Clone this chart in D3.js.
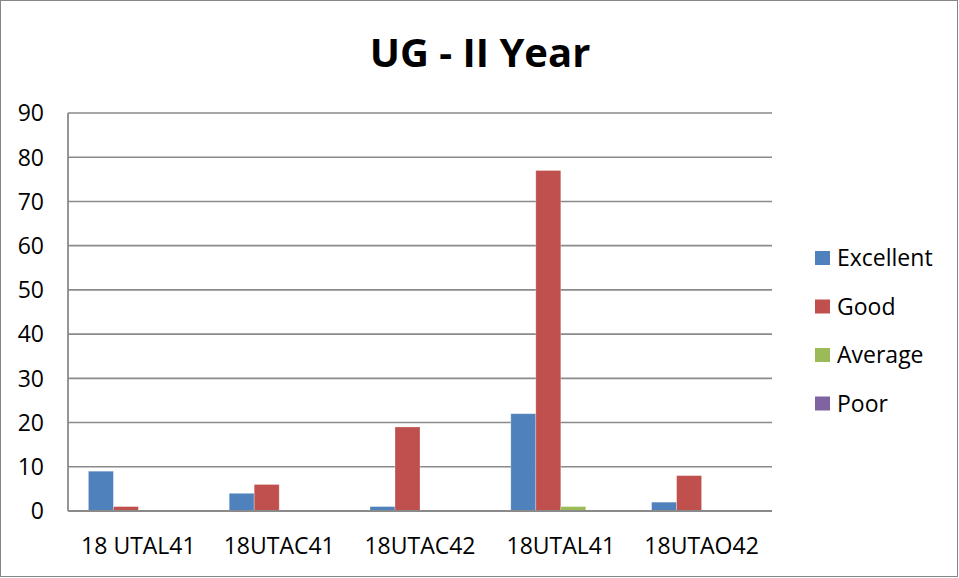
<!DOCTYPE html>
<html>
<head>
<meta charset="utf-8">
<script src="https://cdn.jsdelivr.net/npm/d3@7"></script>
<style>
  body { margin: 0; background: #fff; }
  svg { display: block; font-family: "Open Sans", sans-serif; }
</style>
</head>
<body>
<svg width="959" height="578"></svg>
<script>
'use strict';
const categories = ['18 UTAL41', '18UTAC41', '18UTAC42', '18UTAL41', '18UTAO42'];
const seriesNames = ['Excellent', 'Good', 'Average', 'Poor'];
const excellent = [9, 4, 1, 22, 2];
const good = [1, 6, 19, 77, 8];
const average = [0, 0, 0, 1, 0];
const poor = [0, 0, 0, 0, 0];
const yTicks = [0, 10, 20, 30, 40, 50, 60, 70, 80, 90];
const COLORS = ['#4f81bd', '#c0504d', '#9bbb59', '#8064a2'];

const values = [excellent, good, average, poor];
const svg = d3.select('svg');
const plot = { left: 68, right: 772, top: 113, bottom: 511 };

// outer frame
svg.append('rect')
  .attr('x', 0.5).attr('y', 0.5)
  .attr('width', 957).attr('height', 576)
  .attr('fill', '#fff')
  .attr('stroke', '#868686');

svg.append('text')
  .attr('x', 480).attr('y', 67)
  .attr('text-anchor', 'middle')
  .attr('font-size', 40).attr('font-weight', 'bold')
  .text('UG - II Year');

var y = d3.scaleLinear().domain([0, 90]).range([plot.bottom, plot.top]);
var x0 = d3.scaleBand().domain(d3.range(categories.length))
  .range([plot.left, plot.right]).padding(0);
var x1 = d3.scaleBand().domain(d3.range(seriesNames.length))
  .range([0, x0.bandwidth()]).paddingInner(0).paddingOuter(0.816);

// gridlines
svg.append('g').selectAll('line').data(yTicks.filter(d => d > 0)).enter()
  .append('line')
    .attr('x1', plot.left).attr('x2', plot.right)
    .attr('y1', d => y(d)).attr('y2', d => y(d))
    .attr('stroke', '#8a8a8a').attr('stroke-width', 1.6);

// y labels
svg.append('g').selectAll('text').data(yTicks).enter()
  .append('text')
    .attr('x', 44).attr('y', d => y(d))
    .attr('dy', '0.36em')
    .attr('text-anchor', 'end')
    .attr('font-size', 23)
    .text(d => d);

// bars
var groups = svg.append('g').selectAll('g').data(categories).enter()
  .append('g')
    .attr('transform', (d, i) => `translate(${x0(i)}, 0)`);

groups.selectAll('rect')
  .data((d, i) => values.map((s, k) => ({ k: k, v: s[i] })).filter(d => d.v > 0))
  .enter().append('rect')
    .attr('x', d => x1(d.k))
    .attr('y', d => y(d.v))
    .attr('width', x1.bandwidth())
    .attr('height', d => y(0) - y(d.v))
    .attr('fill', d => COLORS[d.k])
    .attr('stroke', 'rgba(255,255,255,0.35)')
    .attr('stroke-width', 0.8);

// axes lines
svg.append('line')
  .attr('x1', plot.left).attr('x2', plot.right)
  .attr('y1', y(0)).attr('y2', y(0))
  .attr('stroke', '#8a8a8a').attr('stroke-width', 1.8);
svg.append('line')
  .attr('x1', plot.left).attr('x2', plot.left)
  .attr('y1', plot.top).attr('y2', y(0))
  .attr('stroke', '#8a8a8a').attr('stroke-width', 1.8);

// x labels
svg.append('g').selectAll('text').data(categories).enter()
  .append('text')
    .attr('x', (d, i) => x0(i) + x0.bandwidth() / 2)
    .attr('y', 554)
    .attr('text-anchor', 'middle')
    .attr('font-size', 23)
    .text(d => d);

// legend
var legend = svg.append('g').selectAll('g').data(seriesNames).enter()
  .append('g')
    .attr('transform', (d, i) => `translate(815, ${258 + i * 48.5})`);
legend.append('rect')
  .attr('x', 0).attr('y', -7)
  .attr('width', 15).attr('height', 14)
  .attr('fill', (d, i) => COLORS[i]);
legend.append('text')
  .attr('x', 22).attr('dy', '0.36em')
  .attr('font-size', 23)
  .text(d => d);
</script>
</body>
</html>
